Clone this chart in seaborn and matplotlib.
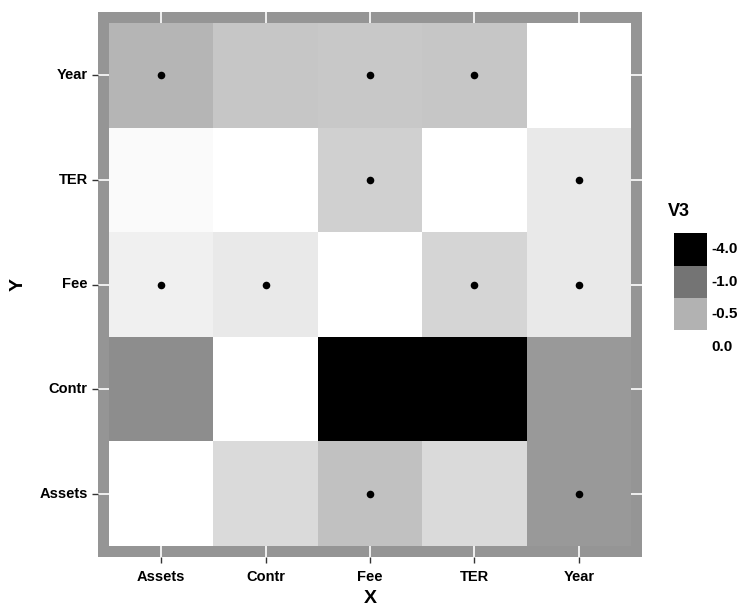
import matplotlib
matplotlib.use("Agg")
import matplotlib.pyplot as plt
import seaborn as sns
import numpy as np
import pandas as pd
from matplotlib.colors import LinearSegmentedColormap, Normalize
from matplotlib.patches import Rectangle

# ---- data ----
x_labels = ["Assets", "Contr", "Fee", "TER", "Year"]
y_labels_top_to_bottom = ["Year", "TER", "Fee", "Contr", "Assets"]
v3_year = [-0.475, -0.373, -0.348, -0.373, 0.0]
v3_ter = [-0.032, 0.0, -0.310, 0.0, -0.146]
v3_fee = [-0.108, -0.146, 0.0, -0.278, -0.146]
v3_contr = [-0.795, 0.0, -4.0, -4.0, -0.689]
v3_assets = [0.0, -0.247, -0.405, -0.247, -0.689]
# significance dots (1 = dot)
sig_year = [1, 0, 1, 1, 0]
sig_ter = [0, 0, 1, 0, 1]
sig_fee = [1, 1, 0, 1, 1]
sig_contr = [0, 0, 0, 0, 0]
sig_assets = [0, 0, 1, 0, 1]
legend_values = [-4.0, -1.0, -0.5, 0.0]

values = pd.DataFrame([v3_year, v3_ter, v3_fee, v3_contr, v3_assets],
                      index=y_labels_top_to_bottom, columns=x_labels)
sig = np.array([sig_year, sig_ter, sig_fee, sig_contr, sig_assets])

cmap = LinearSegmentedColormap.from_list(
    "v3", [(0.0, "#000000"), (0.75, "#737373"), (0.875, "#b0b0b0"), (1.0, "#ffffff")])
norm = Normalize(vmin=-4.0, vmax=0.0)

W, H = 743, 609
fig = plt.figure(figsize=(W / 100, H / 100), dpi=100)
ax = fig.add_axes([98 / W, 1 - 557 / H, (642 - 98) / W, (557 - 12) / H])
ax.set_facecolor("#959595")
ax.set_axisbelow(True)

sns.heatmap(values, ax=ax, cmap=cmap, vmin=-4.0, vmax=0.0, cbar=False,
            linewidths=0, square=False)

rows, cols = np.nonzero(sig)
ax.scatter(cols + 0.5, rows + 0.5, s=30, color="black", zorder=3, linewidths=0)

pad = 0.105
ax.set_xlim(-pad, 5 + pad)
ax.set_ylim(5 + pad, -pad)
ax.grid(True, color="white", linewidth=1.2, zorder=0)
for s in ax.spines.values():
    s.set_visible(False)

ax.set_xticks(np.arange(5) + 0.5)
ax.set_xticklabels(x_labels)
ax.set_yticks(np.arange(5) + 0.5)
ax.set_yticklabels(y_labels_top_to_bottom, rotation=0)
ax.tick_params(axis="both", length=4.5, width=1, color="#333333",
               labelsize=10.5, labelcolor="black")
ax.tick_params(axis="x", pad=5)
ax.tick_params(axis="y", pad=3)
for lab in ax.get_xticklabels() + ax.get_yticklabels():
    lab.set_fontfamily("Liberation Sans")
    lab.set_fontweight("bold")

ax.set_xlabel("X", fontsize=14, fontweight="bold", family="Liberation Sans", labelpad=4)
ax.set_ylabel("Y", fontsize=14, fontweight="bold", family="Liberation Sans", labelpad=9)

# legend (ggplot-style discrete keys)
fig.text(668 / W, 1 - 212 / H, "V3", fontsize=13, fontweight="bold",
         family="Liberation Sans", ha="left", va="center")
key_x, key_w, key_h, key_top = 674, 33, 32.5, 233
for i, v in enumerate(legend_values):
    top = key_top + i * key_h
    fig.add_artist(Rectangle((key_x / W, 1 - (top + key_h) / H), key_w / W, key_h / H,
                             transform=fig.transFigure, facecolor=cmap(norm(v)),
                             edgecolor="none"))
    fig.text(711 / W, 1 - (top + key_h / 2) / H, f"{v:.1f}", fontsize=11,
             fontweight="bold", family="Liberation Sans", ha="left", va="center")

fig.savefig("out.png", dpi=100)
